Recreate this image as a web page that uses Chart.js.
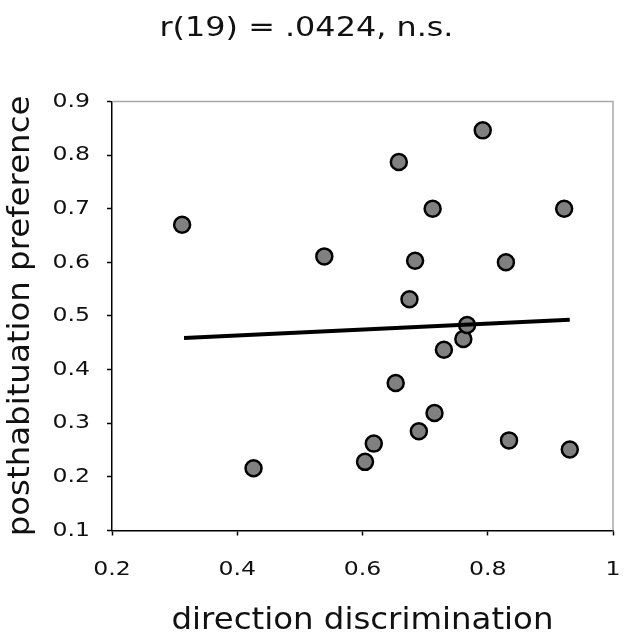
<!DOCTYPE html>
<html>
<head>
<meta charset="utf-8">
<script src="https://cdn.jsdelivr.net/npm/chart.js@4/dist/chart.umd.min.js"></script>
<style>
  html, body { margin: 0; padding: 0; background: #fff; }
  canvas { display: block; }
</style>
</head>
<body>
<canvas id="c" width="632" height="640"></canvas>
<script>
// ---- data ----
const titleText = "r(19) = .0424, n.s.";
const xTitle = "direction discrimination";
const yTitle = "posthabituation preference";

const xVals = [0.312, 0.426, 0.539, 0.604, 0.618, 0.653, 0.658, 0.675, 0.684, 0.690,
               0.712, 0.715, 0.730, 0.761, 0.767, 0.792, 0.829, 0.834, 0.922, 0.931];
const yVals = [0.670, 0.216, 0.611, 0.228, 0.262, 0.375, 0.787, 0.531, 0.603, 0.285,
               0.700, 0.319, 0.437, 0.457, 0.483, 0.846, 0.600, 0.268, 0.700, 0.251];

const trendX = [0.315, 0.931];
const trendY = [0.459, 0.493];

const xTicks = [0.2, 0.4, 0.6, 0.8, 1];
const xTickLabels = ["0.2", "0.4", "0.6", "0.8", "1"];
const yTicks = [0.1, 0.2, 0.3, 0.4, 0.5, 0.6, 0.7, 0.8, 0.9];
const yTickLabels = ["0.1", "0.2", "0.3", "0.4", "0.5", "0.6", "0.7", "0.8", "0.9"];

// ---- build ----
const points = xVals.map((x, i) => ({ x: x, y: yVals[i] }));
const trend = trendX.map((x, i) => ({ x: x, y: trendY[i] }));

const FONT = "'DejaVu Sans', Verdana, sans-serif";
const TEXT = '#111';

// horizontally widen glyphs (reference text is wide, Verdana-like)
const stretchPlugin = {
  id: 'stretch',
  beforeInit(chart) {
    const ctx = chart.ctx;
    const orig = ctx.fillText.bind(ctx);
    ctx.fillText = function (text, x, y, maxWidth) {
      const m = /(\d+(?:\.\d+)?)px/.exec(ctx.font);
      const size = m ? parseFloat(m[1]) : 12;
      const k = size >= 29 ? 1.08 : 1.18;
      ctx.save();
      ctx.translate(x, y);
      ctx.scale(k, 1);
      if (maxWidth === undefined) orig(text, 0, 0);
      else orig(text, 0, 0, maxWidth / k);
      ctx.restore();
    };
  }
};

const framePlugin = {
  id: 'frame',
  beforeDatasetsDraw(chart) {
    const { ctx, chartArea: a } = chart;
    ctx.save();
    ctx.strokeStyle = '#a8a8a8';
    ctx.lineWidth = 1.5;
    ctx.beginPath();
    ctx.moveTo(a.left, a.top);
    ctx.lineTo(a.right, a.top);
    ctx.lineTo(a.right, a.bottom);
    ctx.stroke();
    ctx.restore();
  }
};

const chart = new Chart(document.getElementById('c'), {
  type: 'scatter',
  data: {
    datasets: [
      { type: 'scatter', data: points, pointRadius: 8, pointHoverRadius: 8,
        pointBackgroundColor: '#808080', pointBorderColor: '#000', pointBorderWidth: 2.5, order: 2 },
      { type: 'line', data: trend, borderColor: '#000', borderWidth: 4, pointRadius: 0, fill: false, order: 1 }
    ]
  },
  options: {
    responsive: false,
    animation: false,
    devicePixelRatio: 1,
    layout: { padding: { top: 0, right: 19, bottom: 0, left: 0 } },
    plugins: {
      legend: { display: false },
      tooltip: { enabled: false },
      title: { display: true, text: titleText, color: TEXT,
        font: { family: FONT, size: 27, weight: 'normal', lineHeight: 1.2 },
        padding: { top: 13, bottom: 56 } }
    },
    scales: {
      x: {
        type: 'linear', min: 0.2, max: 1,
        afterFit(scale) { scale.height = 109.5; scale.paddingLeft = 0; scale.paddingRight = 0; },
        afterBuildTicks(scale) { scale.ticks = xTicks.map(v => ({ value: v })); },
        ticks: { color: TEXT, font: { family: FONT, size: 20 }, padding: 22, maxRotation: 0, autoSkip: false,
          callback: (v) => xTickLabels[xTicks.findIndex(t => Math.abs(t - v) < 1e-9)] },
        grid: { display: true, drawOnChartArea: false, drawTicks: true, tickLength: 5, color: '#000', tickWidth: 1.5 },
        border: { display: true, color: '#000', width: 1.5 },
        title: { display: true, text: xTitle, color: TEXT, font: { family: FONT, size: 30, lineHeight: 1.2 },
          padding: { top: 0, bottom: 1 } }
      },
      y: {
        type: 'linear', min: 0.1, max: 0.9,
        afterFit(scale) { scale.width = 112; },
        afterBuildTicks(scale) { scale.ticks = yTicks.map(v => ({ value: v })); },
        ticks: { color: TEXT, font: { family: FONT, size: 20 }, padding: 17, autoSkip: false,
          callback: (v) => yTickLabels[yTicks.findIndex(t => Math.abs(t - v) < 1e-9)] },
        grid: { display: true, drawOnChartArea: false, drawTicks: true, tickLength: 5, color: '#000', tickWidth: 1.5 },
        border: { display: true, color: '#000', width: 1.5 },
        title: { display: true, text: yTitle, color: TEXT, font: { family: FONT, size: 30, lineHeight: 1.2 },
          padding: { top: 3, bottom: 0 } }
      }
    }
  },
  plugins: [stretchPlugin, framePlugin]
});
</script>
</body>
</html>
